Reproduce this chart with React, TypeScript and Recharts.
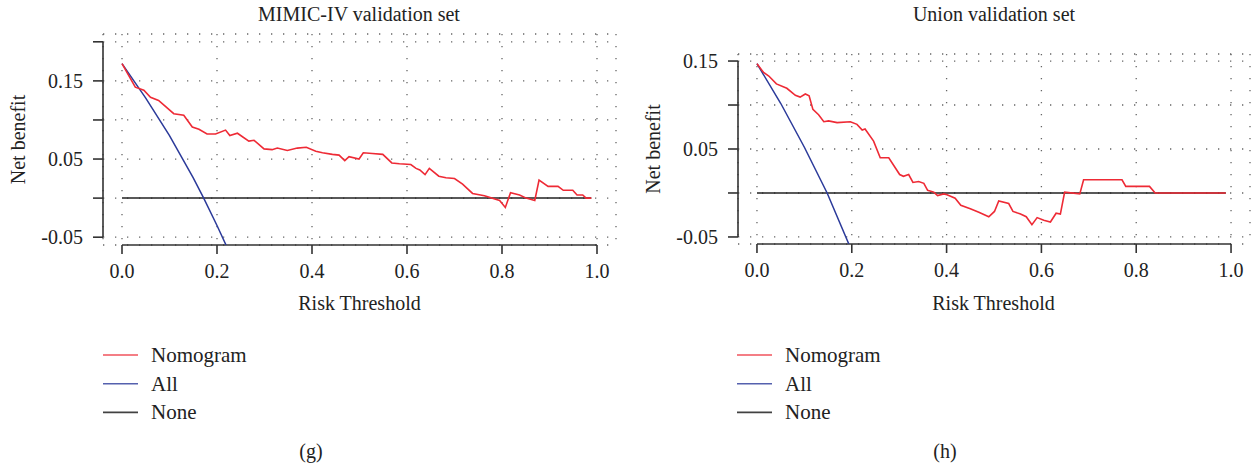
import React from 'react';
import { LineChart, Line, XAxis, YAxis, CartesianGrid, ReferenceLine } from 'recharts';

// ---------- shared ----------
const xTicks = [0, 0.2, 0.4, 0.6, 0.8, 1.0];
const seriesNames = ['Nomogram', 'All', 'None'];
const seriesColors = ['#ee2a35', '#2b3a9a', '#222222'];

// ---------- left panel (g): MIMIC-IV validation set ----------
const leftTitle = 'MIMIC-IV validation set';
const leftYTicks = [-0.05, 0, 0.05, 0.1, 0.15, 0.2];
const leftYLabelled = [-0.05, 0.05, 0.15];
const leftNomoX = [0, 0.028, 0.046, 0.06, 0.077, 0.092, 0.109, 0.13, 0.148, 0.162, 0.179, 0.197, 0.218, 0.227, 0.243, 0.267, 0.278, 0.299, 0.316, 0.327, 0.348, 0.369, 0.388, 0.408, 0.422, 0.443, 0.457, 0.469, 0.478, 0.499, 0.508, 0.527, 0.549, 0.568, 0.584, 0.608, 0.619, 0.627, 0.638, 0.647, 0.667, 0.682, 0.7, 0.717, 0.738, 0.763, 0.795, 0.807, 0.818, 0.837, 0.851, 0.869, 0.878, 0.897, 0.918, 0.929, 0.949, 0.958, 0.97, 0.977, 0.988];
const leftNomoY = [0.172, 0.142, 0.138, 0.129, 0.125, 0.117, 0.108, 0.106, 0.091, 0.088, 0.082, 0.082, 0.087, 0.08, 0.083, 0.073, 0.074, 0.063, 0.062, 0.064, 0.061, 0.064, 0.065, 0.06, 0.058, 0.056, 0.055, 0.048, 0.053, 0.05, 0.058, 0.057, 0.056, 0.045, 0.044, 0.043, 0.038, 0.036, 0.03, 0.038, 0.028, 0.026, 0.025, 0.018, 0.006, 0.003, -0.003, -0.012, 0.007, 0.004, 0.0, -0.003, 0.023, 0.015, 0.015, 0.01, 0.01, 0.004, 0.004, 0.0, 0.0];
const leftAllX = [0, 0.05, 0.1, 0.15, 0.172, 0.2, 0.225];
const leftAllY = [0.172, 0.128, 0.08, 0.026, 0.0, -0.035, -0.068];
const leftNoneX = [0, 0.988];
const leftNoneY = [0, 0];

// ---------- right panel (h): Union validation set ----------
const rightTitle = 'Union validation set';
const rightYTicks = [-0.05, 0, 0.05, 0.1, 0.15];
const rightYLabelled = [-0.05, 0.05, 0.15];
const rightNomoX = [0, 0.014, 0.025, 0.041, 0.063, 0.081, 0.091, 0.102, 0.11, 0.118, 0.13, 0.141, 0.151, 0.169, 0.197, 0.211, 0.222, 0.228, 0.246, 0.26, 0.278, 0.301, 0.309, 0.32, 0.329, 0.341, 0.352, 0.36, 0.373, 0.381, 0.394, 0.401, 0.418, 0.43, 0.45, 0.468, 0.489, 0.501, 0.51, 0.531, 0.54, 0.556, 0.568, 0.58, 0.591, 0.605, 0.619, 0.631, 0.64, 0.649, 0.681, 0.689, 0.77, 0.778, 0.828, 0.84, 0.989];
const rightNomoY = [0.147, 0.137, 0.133, 0.124, 0.119, 0.111, 0.109, 0.1125, 0.1105, 0.095, 0.089, 0.081, 0.082, 0.08, 0.081, 0.078, 0.0716, 0.0727, 0.059, 0.04, 0.04, 0.021, 0.019, 0.021, 0.012, 0.013, 0.011, 0.003, 0.001, -0.003, -0.001, -0.002, -0.006, -0.014, -0.018, -0.022, -0.027, -0.021, -0.009, -0.012, -0.021, -0.024, -0.027, -0.036, -0.028, -0.031, -0.033, -0.023, -0.024, 0.001, -0.001, 0.015, 0.015, 0.0075, 0.0075, 0.0, 0.0];
const rightAllX = [0, 0.05, 0.1, 0.148, 0.195, 0.2];
const rightAllY = [0.147, 0.102, 0.052, 0.0, -0.0596, -0.066];
const rightNoneX = [0, 0.989];
const rightNoneY = [0, 0];

const toPts = (xs: number[], ys: number[]) => xs.map((x, i) => ({ x, y: ys[i] }));

const FONT = "'Liberation Serif', 'Times New Roman', serif";
const TXT = '#222';
const AXIS = '#333';

type PanelProps = {
  left: number;
  width: number;
  height: number;
  marginTop: number;
  marginRight: number;
  yAxisWidth: number;
  xAxisHeight: number;
  yDomain: [number, number];
  yTicks: number[];
  yLabelled: number[];
  series: { x: number; y: number }[][];
};

function Panel(p: PanelProps) {
  const fmtY = (v: number) => (p.yLabelled.some((l) => Math.abs(l - v) < 1e-9) ? String(v) : '');
  const yTop = p.yTicks[p.yTicks.length - 1];
  const yBot = p.yTicks[0];
  return (
    <div style={{ position: 'absolute', left: p.left, top: 0 }}>
      <LineChart
        width={p.width}
        height={p.height}
        margin={{ top: p.marginTop, right: p.marginRight, left: 0, bottom: 0 }}
      >
        <CartesianGrid stroke="#666" strokeWidth={1.3} strokeDasharray="1.3 10.7" />
        <XAxis
          dataKey="x"
          type="number"
          domain={[-0.04, 1.04]}
          ticks={xTicks}
          allowDataOverflow
          height={p.xAxisHeight}
          axisLine={false}
          tickLine={{ stroke: AXIS, strokeWidth: 1.6 }}
          tickSize={9}
          tickMargin={10}
          tickFormatter={(v: number) => v.toFixed(1)}
          tick={{ fill: TXT, fontSize: 20, fontFamily: FONT }}
        />
        <YAxis
          type="number"
          domain={p.yDomain}
          ticks={p.yTicks}
          allowDataOverflow
          width={p.yAxisWidth}
          axisLine={false}
          tickLine={{ stroke: AXIS, strokeWidth: 1.6 }}
          tickSize={10}
          tickMargin={10}
          tickFormatter={fmtY}
          tick={{ fill: TXT, fontSize: 20, fontFamily: FONT }}
          interval={0}
        />
        <ReferenceLine
          segment={[{ x: -0.04, y: yBot }, { x: -0.04, y: yTop }]}
          stroke={AXIS}
          strokeWidth={1.6}
          ifOverflow="visible"
        />
        <ReferenceLine
          segment={[{ x: 0, y: p.yDomain[0] }, { x: 1, y: p.yDomain[0] }]}
          stroke={AXIS}
          strokeWidth={1.6}
          ifOverflow="visible"
        />
        <Line data={p.series[2]} dataKey="y" name={seriesNames[2]} stroke={seriesColors[2]} strokeWidth={1.5} dot={false} type="linear" isAnimationActive={false} />
        <Line data={p.series[1]} dataKey="y" name={seriesNames[1]} stroke={seriesColors[1]} strokeWidth={1.5} dot={false} type="linear" isAnimationActive={false} />
        <Line data={p.series[0]} dataKey="y" name={seriesNames[0]} stroke={seriesColors[0]} strokeWidth={1.6} dot={false} type="linear" isAnimationActive={false} />
      </LineChart>
    </div>
  );
}

function Legend({ x, y0 }: { x: number; y0: number }) {
  const rowGap = 28.7;
  return (
    <g>
      {seriesNames.map((n, i) => (
        <g key={n}>
          <line x1={x} x2={x + 35} y1={y0 + i * rowGap} y2={y0 + i * rowGap} stroke={seriesColors[i]} strokeWidth={1.6} opacity={i === 2 ? 0.85 : 0.8} />
          <text x={x + 48} y={y0 + i * rowGap + 7} fontSize={21} fontFamily={FONT} fill={TXT}>{n}</text>
        </g>
      ))}
    </g>
  );
}

export default function App() {
  return (
    <div style={{ position: 'absolute', left: 0, top: 0, width: 1255, height: 470, background: '#fff', fontFamily: FONT }}>
      <Panel
        left={0}
        width={640}
        height={290}
        marginTop={34}
        marginRight={24}
        yAxisWidth={103}
        xAxisHeight={45}
        yDomain={[-0.06, 0.21]}
        yTicks={leftYTicks}
        yLabelled={leftYLabelled}
        series={[toPts(leftNomoX, leftNomoY), toPts(leftAllX, leftAllY), toPts(leftNoneX, leftNoneY)]}
      />
      <Panel
        left={640}
        width={615}
        height={290}
        marginTop={54}
        marginRight={5}
        yAxisWidth={98}
        xAxisHeight={46}
        yDomain={[-0.058, 0.158]}
        yTicks={rightYTicks}
        yLabelled={rightYLabelled}
        series={[toPts(rightNomoX, rightNomoY), toPts(rightAllX, rightAllY), toPts(rightNoneX, rightNoneY)]}
      />
      <svg width={1255} height={470} style={{ position: 'absolute', left: 0, top: 0, pointerEvents: 'none' }}>
        <text x={359} y={21} textAnchor="middle" fontSize={20} fontFamily={FONT} fill={TXT}>{leftTitle}</text>
        <text x={994} y={21} textAnchor="middle" fontSize={20} fontFamily={FONT} fill={TXT}>{rightTitle}</text>
        <text transform="translate(25,139.5) rotate(-90)" textAnchor="middle" fontSize={20} fontFamily={FONT} fill={TXT}>Net benefit</text>
        <text transform="translate(660,149) rotate(-90)" textAnchor="middle" fontSize={20} fontFamily={FONT} fill={TXT}>Net benefit</text>
        <text x={359.5} y={310} textAnchor="middle" fontSize={20} fontFamily={FONT} fill={TXT}>Risk Threshold</text>
        <text x={993.5} y={310} textAnchor="middle" fontSize={20} fontFamily={FONT} fill={TXT}>Risk Threshold</text>
        <Legend x={103} y0={355} />
        <Legend x={737} y0={355} />
        <text x={311} y={458} textAnchor="middle" fontSize={20} fontFamily={FONT} fill={TXT}>(g)</text>
        <text x={945} y={458} textAnchor="middle" fontSize={20} fontFamily={FONT} fill={TXT}>(h)</text>
      </svg>
    </div>
  );
}
